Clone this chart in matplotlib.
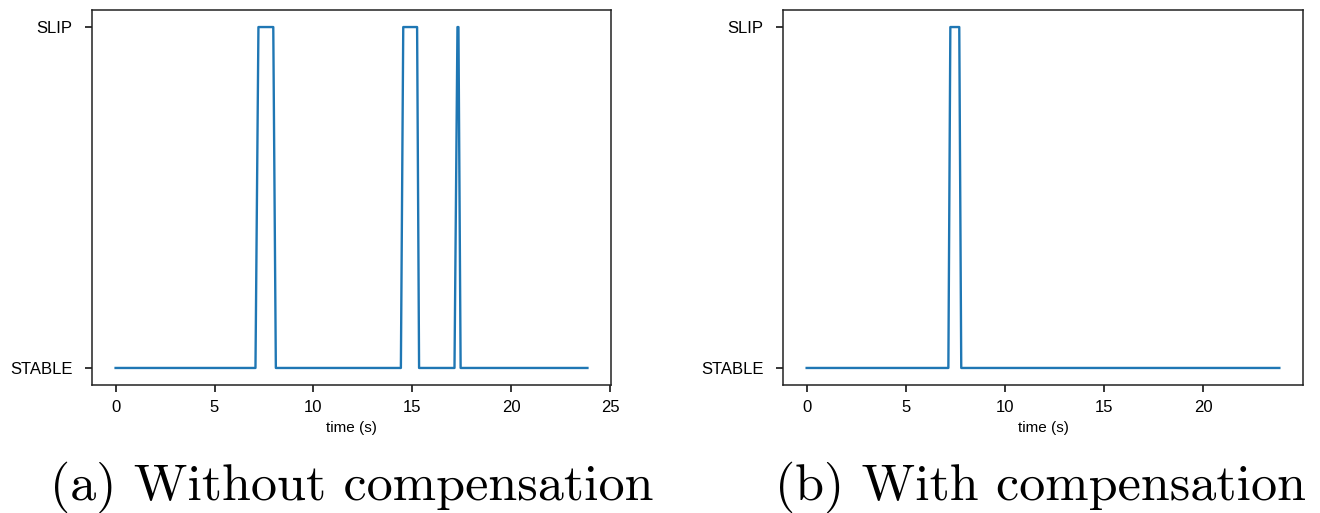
import matplotlib.pyplot as plt

# breakpoints of the slip detector output (0 = STABLE, 1 = SLIP)
t_without = [0.0, 7.07, 7.22, 7.97, 8.10, 14.42, 14.54, 15.24, 15.34,
             17.13, 17.28, 17.33, 17.44, 23.85]
s_without = [0, 0, 1, 1, 0, 0, 1, 1, 0, 0, 1, 1, 0, 0]

t_with = [0.0, 7.15, 7.25, 7.70, 7.80, 23.85]
s_with = [0, 0, 1, 1, 0, 0]

state_labels = ["STABLE", "SLIP"]
xticks_a = [0, 5, 10, 15, 20, 25]
xticks_b = [0, 5, 10, 15, 20]
captions = ["(a) Without compensation", "(b) With compensation"]

plt.rcParams['font.family'] = ['Liberation Sans', 'DejaVu Sans']

fig = plt.figure(figsize=(13.2, 5.13), dpi=100)
ax1 = fig.add_axes([0.0697, 0.2495, 0.3932, 0.731])
ax2 = fig.add_axes([0.5932, 0.2495, 0.3939, 0.731])

for ax, t, s, ticks in [(ax1, t_without, s_without, xticks_a),
                        (ax2, t_with, s_with, xticks_b)]:
    ax.plot(t, s, color='#1f77b4', linewidth=1.7)
    ax.set_yticks([0, 1])
    ax.set_yticklabels(state_labels)
    ax.set_xticks(ticks)
    ax.set_xlabel('time (s)', fontsize=11, labelpad=4)
    ax.tick_params(axis='both', labelsize=12, length=5, width=1.1)
    ax.tick_params(axis='y', pad=9)
    ax.tick_params(axis='x', pad=6)
    for sp in ax.spines.values():
        sp.set_color('#222222')
        sp.set_linewidth(1.1)

fig.text(0.2667, 0.05, captions[0], ha='center', va='center',
         family='cmr10', fontsize=37.5)
fig.text(0.7886, 0.05, captions[1], ha='center', va='center',
         family='cmr10', fontsize=37.5)

fig.savefig('out.png', dpi=100)
